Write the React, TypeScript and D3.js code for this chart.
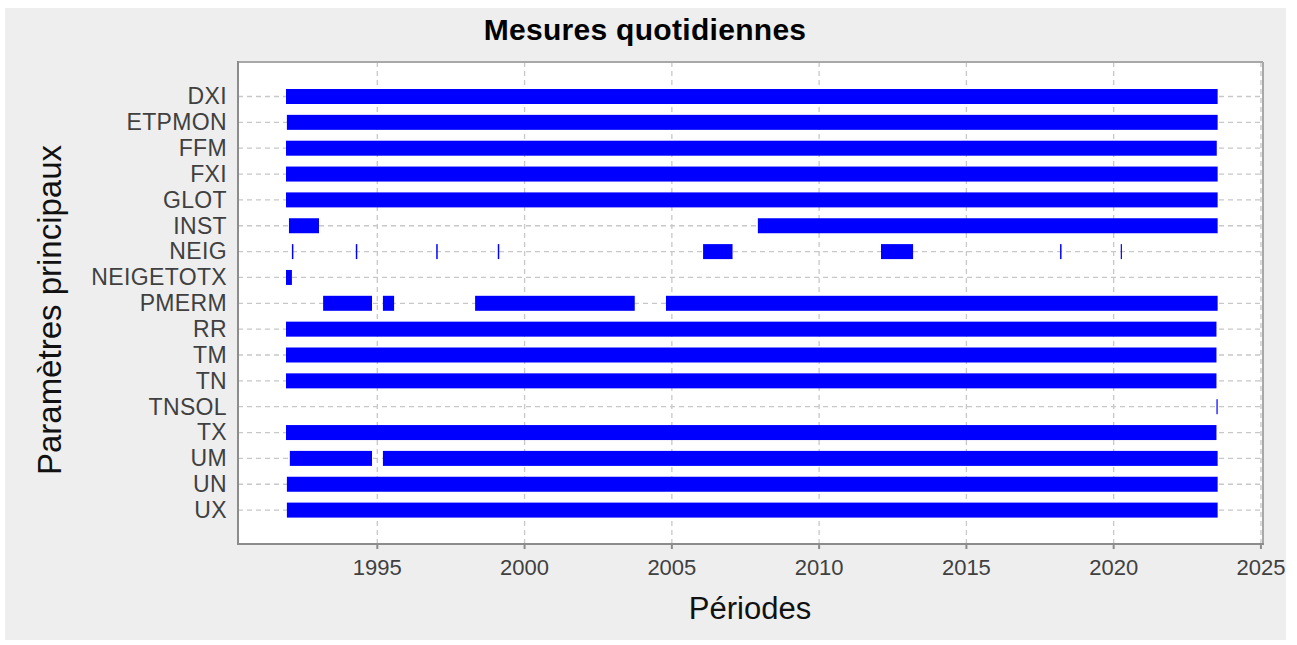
import React from "react";
import * as d3 from "d3";

// parameters, top to bottom
const params = [
  "DXI", "ETPMON", "FFM", "FXI", "GLOT", "INST", "NEIG", "NEIGETOTX",
  "PMERM", "RR", "TM", "TN", "TNSOL", "TX", "UM", "UN", "UX",
];

// measurement periods (decimal years) for each parameter
const segDXI = [[1991.9, 2023.53]];
const segETPMON = [[1991.93, 2023.53]];
const segFFM = [[1991.9, 2023.5]];
const segFXI = [[1991.9, 2023.53]];
const segGLOT = [[1991.9, 2023.53]];
const segINST = [[1992.0, 1993.02], [2007.92, 2023.53]];
const segNEIG = [
  [1992.1, 1992.15], [1994.27, 1994.32], [1997.0, 1997.05], [1999.09, 1999.14],
  [2006.06, 2007.06], [2012.1, 2013.19], [2018.18, 2018.23], [2020.24, 2020.27],
];
const segNEIGETOTX = [[1991.9, 1992.1]];
const segPMERM = [[1993.16, 1994.82], [1995.19, 1995.57], [1998.32, 2003.74], [2004.8, 2023.53]];
const segRR = [[1991.9, 2023.49]];
const segTM = [[1991.9, 2023.49]];
const segTN = [[1991.9, 2023.49]];
const segTNSOL = [[2023.49, 2023.52]];
const segTX = [[1991.9, 2023.49]];
const segUM = [[1992.03, 1994.82], [1995.19, 2023.53]];
const segUN = [[1991.93, 2023.53]];
const segUX = [[1991.93, 2023.53]];

const segments = [
  segDXI, segETPMON, segFFM, segFXI, segGLOT, segINST, segNEIG, segNEIGETOTX,
  segPMERM, segRR, segTM, segTN, segTNSOL, segTX, segUM, segUN, segUX,
];

const xTicks = [1995, 2000, 2005, 2010, 2015, 2020, 2025];

const W = 1297;
const H = 645;
const left = 238, right = 1263, top = 62, bottom = 544;
const font = "'Liberation Sans', Arial, sans-serif";

export default function App() {
  const x = d3.scaleLinear().domain([1990.27, 2025.07]).range([left, right]);
  const y = d3.scalePoint<string>().domain(params).range([96.5, 510.1]);
  const barH = 15;

  return (
    <svg width={W} height={H} style={{ position: "absolute", left: 0, top: 0 }} fontFamily={font}>
      <rect x={5} y={8} width={1281} height={632} fill="#eeeeee" />
      <rect x={left} y={top} width={right - left} height={bottom - top} fill="#fff" />

      {/* grid */}
      {xTicks.map((t) => (
        <line key={"gx" + t} x1={x(t)} x2={x(t)} y1={top} y2={bottom}
          stroke="#c8c8c8" strokeWidth={1.3} strokeDasharray="5,4" />
      ))}
      {params.map((p) => (
        <line key={"gy" + p} x1={left} x2={right} y1={y(p)} y2={y(p)}
          stroke="#c8c8c8" strokeWidth={1.3} strokeDasharray="5,4" />
      ))}

      {/* bars */}
      {params.map((p, i) =>
        segments[i].map((s, j) => {
          const x0 = x(s[0]);
          const w = Math.max(1.2, x(s[1]) - x0);
          return (
            <rect key={p + j} x={x0} y={(y(p) as number) - barH / 2} width={w} height={barH} fill="#0000ff" />
          );
        })
      )}

      {/* frame */}
      <line x1={left} x2={right} y1={top} y2={top} stroke="#a8a8a8" strokeWidth={2} />
      <line x1={right} x2={right} y1={top} y2={bottom} stroke="#a8a8a8" strokeWidth={2} />
      <line x1={left} x2={left} y1={top - 1} y2={bottom + 1} stroke="#8c8c8c" strokeWidth={2} />
      <line x1={left - 1} x2={right + 1} y1={bottom} y2={bottom} stroke="#8c8c8c" strokeWidth={2} />

      {/* x axis */}
      {xTicks.map((t) => (
        <g key={"tx" + t}>
          <line x1={x(t)} x2={x(t)} y1={bottom} y2={bottom + 5} stroke="#8c8c8c" strokeWidth={2} />
          <text x={x(t)} y={575} textAnchor="middle" fontSize={22} fill="#404040">{t}</text>
        </g>
      ))}

      {/* y axis labels */}
      {params.map((p) => (
        <text key={"ly" + p} x={227} y={(y(p) as number) + 7.8} textAnchor="end" fontSize={23}
          letterSpacing={0.35} fill="#404040">{p}</text>
      ))}

      <text x={645} y={40} textAnchor="middle" fontSize={30} fontWeight="bold" letterSpacing={0.3} fill="#000">Mesures quotidiennes</text>
      <text x={750} y={619} textAnchor="middle" fontSize={31} fill="#111">Périodes</text>
      <text transform={`translate(61,310) rotate(-90)`} textAnchor="middle" fontSize={33} fill="#111">Paramètres principaux</text>
    </svg>
  );
}
